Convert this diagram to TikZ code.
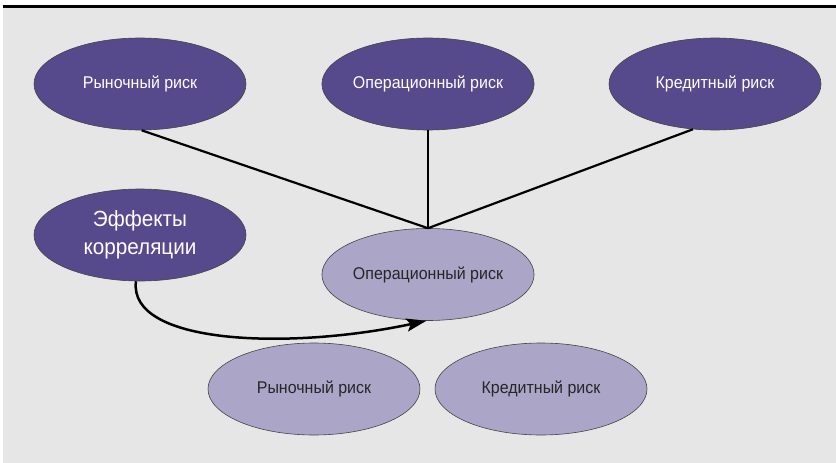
\documentclass[tikz,border=0pt]{standalone}
\usepackage{fontspec}
\setmainfont{Liberation Sans}[FakeStretch=0.94]
\usetikzlibrary{shapes.geometric,arrows.meta}
\definecolor{bg}{HTML}{E6E6E6}
\definecolor{dk}{HTML}{574A8C}
\definecolor{lt}{HTML}{ABA5C8}
\definecolor{rim}{HTML}{444444}
\tikzset{
  darkell/.style={ellipse,draw=rim,line width=0.6pt,fill=dk,text=white,minimum width=212pt,minimum height=92pt,inner sep=0pt,font=\fontsize{17}{20}\selectfont},
  lightell/.style={ellipse,draw=rim,line width=0.6pt,fill=lt,text=black!85,minimum width=212pt,minimum height=92pt,inner sep=0pt,font=\fontsize{17}{20}\selectfont},
  link/.style={line width=2.2pt,black},
}
\begin{document}
\begin{tikzpicture}[x=1pt,y=-1pt]
\useasboundingbox (0,0) rectangle (836,463);
\fill[bg] (3,8) rectangle (836,463);
\draw[line width=3pt] (3,6.5) -- (836,6.5);
\node[darkell] (m1) at (140,84) {Рыночный риск};
\node[darkell] (o1) at (428,84) {Операционный риск};
\node[darkell] (k1) at (715,84) {Кредитный риск};
\node[darkell,align=center,font=\fontsize{22}{28}\selectfont] (e) at (140,235) {Эффекты\\корреляции};
\node[lightell] (o2) at (428,274.5) {Операционный риск};
\node[lightell] (m2) at (314,389) {Рыночный риск};
\node[lightell] (k2) at (541,389) {Кредитный риск};
\draw[link] (m1.272) -- (o2.north);
\draw[link] (o1.south) -- (o2.north);
\draw[link] (k1.244) -- (o2.north);
\draw[line width=2.5pt,-{Stealth[length=20pt,width=13pt,inset=4pt]}] (e.265) .. controls (128,345) and (290,350) .. (o2.268);
\end{tikzpicture}
\end{document}
